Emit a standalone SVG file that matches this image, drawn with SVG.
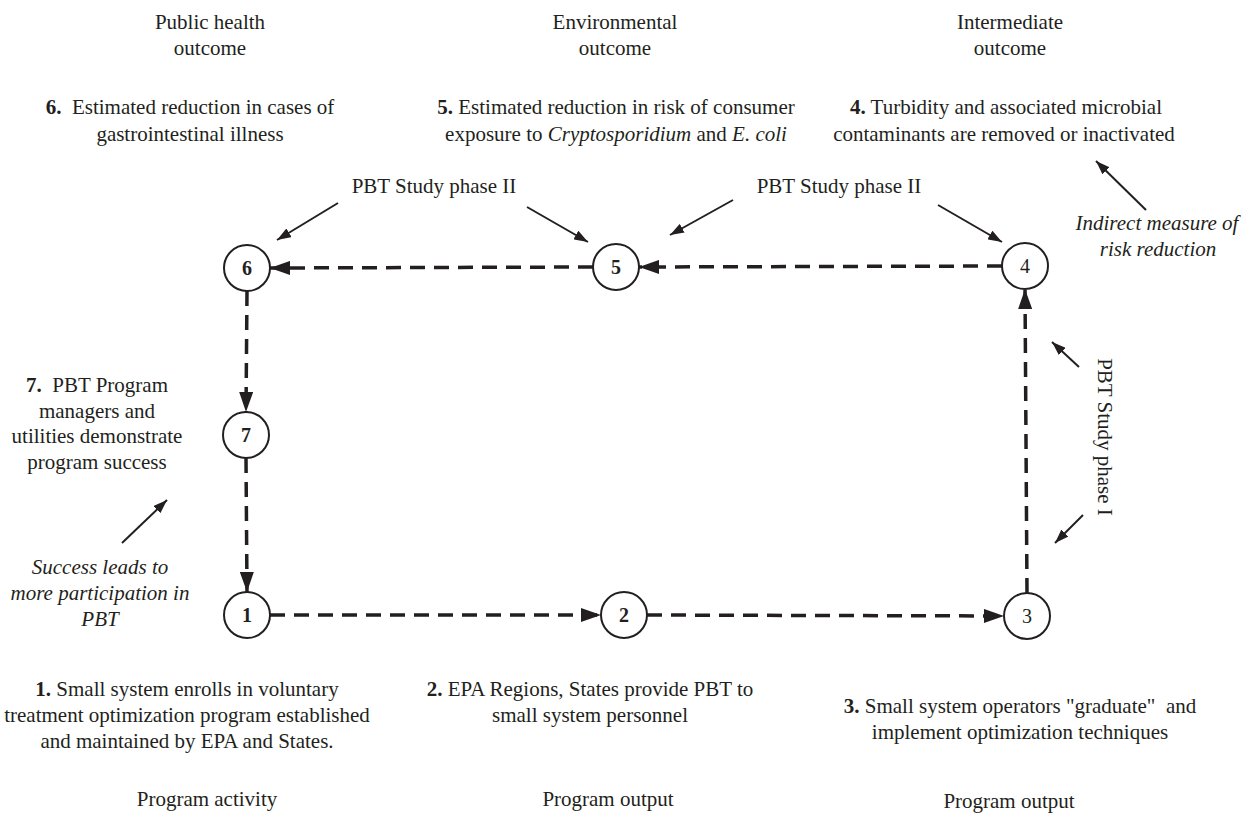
<svg xmlns="http://www.w3.org/2000/svg" width="1247" height="819" viewBox="0 0 1247 819">
<style>
text{font-family:"Liberation Serif","Times New Roman",serif;font-size:21px;fill:#231f20;text-anchor:middle}
.b{font-weight:bold}
.i{font-style:italic}
.num{font-weight:bold;font-size:20px}
.reg{font-size:20px}
circle{fill:#fff;stroke:#231f20;stroke-width:2}
.flow{stroke:#231f20;stroke-width:3.5;stroke-dasharray:15 9;fill:none}
.thin{stroke:#231f20;stroke-width:2;fill:none}
</style>
<defs>
<marker id="ah" viewBox="0 0 20 14" refX="20" refY="7" markerWidth="20" markerHeight="14" markerUnits="userSpaceOnUse" orient="auto"><path d="M0,0 L20,7 L0,14 z" fill="#231f20"/></marker>
<marker id="sm" viewBox="0 0 14 10" refX="14" refY="5" markerWidth="14" markerHeight="10" markerUnits="userSpaceOnUse" orient="auto"><path d="M0,0 L14,5 L0,10 z" fill="#231f20"/></marker>
</defs>

<g id="connectors">
<line class="flow" x1="593" y1="267" x2="270" y2="268" marker-end="url(#ah)"/>
<line class="flow" x1="1002" y1="266" x2="639" y2="267" marker-end="url(#ah)"/>
<line class="flow" x1="247" y1="291" x2="246" y2="412" marker-end="url(#ah)"/>
<line class="flow" x1="246" y1="458" x2="247" y2="592" marker-end="url(#ah)"/>
<line class="flow" x1="270" y1="615" x2="601" y2="615" marker-end="url(#ah)"/>
<line class="flow" x1="647" y1="615" x2="1004" y2="616" marker-end="url(#ah)"/>
<line class="flow" x1="1027" y1="593" x2="1025" y2="289" marker-end="url(#ah)"/>
<line class="thin" x1="338" y1="203" x2="277" y2="240" marker-end="url(#sm)"/>
<line class="thin" x1="527" y1="207" x2="588" y2="242" marker-end="url(#sm)"/>
<line class="thin" x1="733" y1="200" x2="670" y2="235" marker-end="url(#sm)"/>
<line class="thin" x1="938" y1="205" x2="1002" y2="242" marker-end="url(#sm)"/>
<line class="thin" x1="1146" y1="210" x2="1096" y2="161" marker-end="url(#sm)"/>
<line class="thin" x1="1079" y1="367" x2="1052" y2="342" marker-end="url(#sm)"/>
<line class="thin" x1="1083" y1="515" x2="1055" y2="543" marker-end="url(#sm)"/>
<line class="thin" x1="122" y1="543" x2="167" y2="500" marker-end="url(#sm)"/>
</g>

<g id="node6"><circle cx="247" cy="268" r="23"/><text class="num" x="247" y="275">6</text></g>
<g id="node5"><circle cx="616" cy="267" r="23"/><text class="num" x="616" y="274">5</text></g>
<g id="node4"><circle cx="1025" cy="266" r="23"/><text class="reg" x="1025" y="273">4</text></g>
<g id="node7"><circle cx="246" cy="435" r="23"/><text class="num" x="246" y="442">7</text></g>
<g id="node1"><circle cx="247" cy="615" r="23"/><text class="num" x="247" y="622">1</text></g>
<g id="node2"><circle cx="624" cy="615" r="23"/><text class="num" x="624" y="622">2</text></g>
<g id="node3"><circle cx="1027" cy="616" r="23"/><text class="reg" x="1027" y="623">3</text></g>

<g id="headers">
<text x="210" y="29">Public health</text>
<text x="210" y="55">outcome</text>
<text x="615" y="29">Environmental</text>
<text x="615" y="55">outcome</text>
<text x="1010" y="29">Intermediate</text>
<text x="1010" y="55">outcome</text>
</g>

<g id="desc6">
<text x="190" y="114"><tspan class="b">6.</tspan>&#160; Estimated reduction in cases of</text>
<text x="190" y="141">gastrointestinal illness</text>
</g>
<g id="desc5">
<text x="616" y="114"><tspan class="b">5.</tspan> Estimated reduction in risk of consumer</text>
<text x="616" y="141">exposure to <tspan class="i">Cryptosporidium</tspan> and <tspan class="i">E. coli</tspan></text>
</g>
<g id="desc4">
<text x="1006" y="114"><tspan class="b">4.</tspan> Turbidity and associated microbial</text>
<text x="1004" y="141">contaminants are removed or inactivated</text>
</g>

<g id="labels">
<text x="434" y="193">PBT Study phase II</text>
<text x="839" y="193">PBT Study phase II</text>
<text class="i" x="1157" y="230">Indirect measure of</text>
<text class="i" x="1158" y="256">risk reduction</text>
<text transform="translate(1098,437) rotate(90)">PBT Study phase I</text>
</g>

<g id="desc7">
<text x="97" y="392"><tspan class="b">7.</tspan>&#160; PBT Program</text>
<text x="97" y="418">managers and</text>
<text x="97" y="443">utilities demonstrate</text>
<text x="97" y="469">program success</text>
</g>
<g id="success">
<text class="i" x="100" y="574">Success leads to</text>
<text class="i" x="100" y="600">more participation in</text>
<text class="i" x="100" y="626">PBT</text>
</g>

<g id="desc1">
<text x="187" y="696"><tspan class="b">1.</tspan> Small system enrolls in voluntary</text>
<text x="187" y="722">treatment optimization program established</text>
<text x="187" y="748">and maintained by EPA and States.</text>
</g>
<g id="desc2">
<text x="590" y="696"><tspan class="b">2.</tspan> EPA Regions, States provide PBT to</text>
<text x="590" y="722">small system personnel</text>
</g>
<g id="desc3">
<text x="1020" y="713"><tspan class="b">3.</tspan> Small system operators "graduate"&#160; and</text>
<text x="1020" y="739">implement optimization techniques</text>
</g>

<g id="footers">
<text x="207" y="806">Program activity</text>
<text x="608" y="806">Program output</text>
<text x="1009" y="808">Program output</text>
</g>
</svg>
